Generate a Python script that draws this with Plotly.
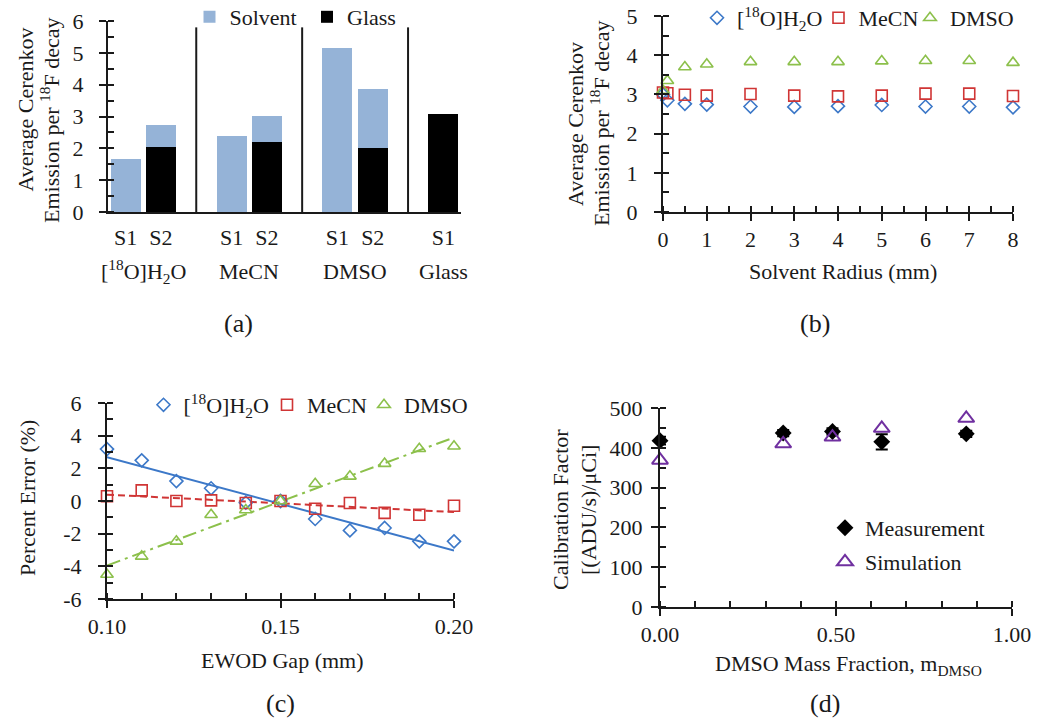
import plotly.graph_objects as go
import numpy as np

W, H = 1050, 724
FONT = "Liberation Serif, Times New Roman, serif"
TXT = "#1a1a1a"
AX = "#1a1a1a"

# ---------------- data ----------------
# (a) stacked bars
a_categories = ["S1", "S2", "", "S1", "S2", "", "S1", "S2", "", "S1"]
a_group_names = ["[<sup>18</sup>O]H<sub>2</sub>O", "MeCN", "DMSO", "Glass"]
a_glass = [0, 2.04, None, 0, 2.21, None, 0, 2.01, None, 3.08]
a_solvent = [1.67, 0.68, None, 2.38, 0.80, None, 5.14, 1.84, None, 0]

# (b) emission vs solvent radius
b_radius = [0, 0.1, 0.5, 1, 2, 3, 4, 5, 6, 7, 8]
b_water = [3.00, 2.85, 2.76, 2.74, 2.69, 2.68, 2.70, 2.73, 2.69, 2.69, 2.67]
b_mecn = [3.05, 3.03, 2.99, 2.97, 3.01, 2.97, 2.95, 2.97, 3.02, 3.02, 2.96]
b_dmso = [3.10, 3.35, 3.70, 3.77, 3.83, 3.83, 3.83, 3.85, 3.86, 3.86, 3.81]

# (c) percent error vs EWOD gap
c_gap = [0.10, 0.11, 0.12, 0.13, 0.14, 0.15, 0.16, 0.17, 0.18, 0.19, 0.20]
c_water = [3.18, 2.49, 1.22, 0.78, -0.10, 0.00, -1.10, -1.80, -1.65, -2.47, -2.47]
c_mecn = [0.29, 0.65, 0.00, 0.04, -0.12, 0.00, -0.47, -0.12, -0.73, -0.84, -0.29]
c_dmso = [-4.50, -3.39, -2.47, -0.84, -0.55, 0.00, 1.06, 1.51, 2.29, 3.20, 3.35]

# (d) calibration factor vs DMSO mass fraction
d_fraction = [0.00, 0.35, 0.49, 0.63, 0.87]
d_measured = [418, 437, 441, 415, 435]
d_measured_err = [10, 8, 8, 19, 8]
d_simulated = [369, 410, 427, 449, 474]

WATER = "[<sup>18</sup>O]H<sub>2</sub>O"
C_BAR = "#95b3d7"
C_BLUE = "#3c78c8"
C_RED = "#d03535"
C_GREEN = "#8cc04b"
C_PURPLE = "#7030a0"


def px_x(p):
    return p / W


def px_y(p):
    return 1 - p / H


fig = go.Figure()

# ---------- (a) ----------
a_x = list(range(len(a_categories)))
fig.add_trace(go.Bar(x=a_x, y=a_glass, name="Glass", marker_color="#000000",
                     marker_line_width=0, xaxis="x", yaxis="y", legend="legend2"))
fig.add_trace(go.Bar(x=a_x, y=a_solvent, name="Solvent", marker_color=C_BAR,
                     marker_line_width=0, xaxis="x", yaxis="y", legend="legend"))

# ---------- (b) ----------
mk = dict(line=dict(width=1.6))
fig.add_trace(go.Scatter(x=b_radius, y=b_water, mode="markers", name=WATER,
                         marker=dict(symbol="diamond-open", size=10, color=C_BLUE, **mk),
                         xaxis="x2", yaxis="y2", legend="legend3", cliponaxis=False))
fig.add_trace(go.Scatter(x=b_radius, y=b_mecn, mode="markers", name="MeCN",
                         marker=dict(symbol="square-open", size=11, color=C_RED, **mk),
                         xaxis="x2", yaxis="y2", legend="legend4", cliponaxis=False))
fig.add_trace(go.Scatter(x=b_radius, y=b_dmso, mode="markers", name="DMSO",
                         marker=dict(symbol="triangle-up-open", size=11, color=C_GREEN, **mk),
                         xaxis="x2", yaxis="y2", legend="legend5", cliponaxis=False))

# ---------- (c) ----------
def trend(xs, ys):
    k, b = np.polyfit(xs, ys, 1)
    ends = [xs[0], xs[-1]]
    return ends, [k * e + b for e in ends]


for ys, col, dash in [(c_water, C_BLUE, "solid"), (c_mecn, C_RED, "7px,4px"),
                      (c_dmso, C_GREEN, "14px,5px,3px,5px")]:
    tx, ty = trend(c_gap, ys)
    fig.add_trace(go.Scatter(x=tx, y=ty, mode="lines", line=dict(color=col, width=2, dash=dash),
                             showlegend=False, xaxis="x3", yaxis="y3", hoverinfo="skip"))

fig.add_trace(go.Scatter(x=c_gap, y=c_water, mode="markers", name=WATER,
                         marker=dict(symbol="diamond-open", size=10, color=C_BLUE, **mk),
                         xaxis="x3", yaxis="y3", legend="legend6", cliponaxis=False))
fig.add_trace(go.Scatter(x=c_gap, y=c_mecn, mode="markers", name="MeCN",
                         marker=dict(symbol="square-open", size=11, color=C_RED, **mk),
                         xaxis="x3", yaxis="y3", legend="legend7", cliponaxis=False))
fig.add_trace(go.Scatter(x=c_gap, y=c_dmso, mode="markers", name="DMSO",
                         marker=dict(symbol="triangle-up-open", size=11, color=C_GREEN, **mk),
                         xaxis="x3", yaxis="y3", legend="legend8", cliponaxis=False))

# ---------- (d) ----------
fig.add_trace(go.Scatter(x=d_fraction, y=d_measured, mode="markers", name="Measurement",
                         marker=dict(symbol="diamond", size=13, color="#000000"),
                         error_y=dict(type="data", array=d_measured_err, color="#000000",
                                      thickness=2, width=6),
                         xaxis="x4", yaxis="y4", legend="legend9", cliponaxis=False))
fig.add_trace(go.Scatter(x=d_fraction, y=d_simulated, mode="markers", name="Simulation",
                         marker=dict(symbol="triangle-up-open", size=14, color=C_PURPLE,
                                     line=dict(width=2)),
                         xaxis="x4", yaxis="y4", legend="legend10", cliponaxis=False))

# ---------- axes ----------
tickfont = dict(family=FONT, size=22, color=TXT)


def num_axis(domain, rng, dtick, minor_dtick, anchor, fmt=None, tick0=0, **kw):
    # major ticks outside + minor ticks inside (minor also at the majors -> crossing ticks)
    d = dict(domain=domain, range=rng, anchor=anchor, showgrid=False, zeroline=False,
             showline=True, linecolor=AX, linewidth=2, automargin=False,
             ticks="outside", ticklen=7, tickwidth=2.2, tickcolor=AX,
             dtick=dtick, tick0=tick0, tickfont=tickfont,
             minor=dict(ticks="inside", ticklen=6, tickwidth=2.2, tickcolor=AX,
                        dtick=minor_dtick, tick0=tick0, showgrid=False))
    if fmt:
        d["tickformat"] = fmt
    d.update(kw)
    return d


layout = dict(
    width=W, height=H, margin=dict(l=0, r=0, t=0, b=0, autoexpand=False),
    paper_bgcolor="white", plot_bgcolor="rgba(0,0,0,0)",
    font=dict(family=FONT, size=22, color=TXT),
    barmode="stack", bargap=0.15, showlegend=True,
)

# (a)
a_tickvals = [i for i, c in enumerate(a_categories) if c]
a_ticktext = [c for c in a_categories if c]
layout["xaxis"] = dict(domain=[px_x(108), px_x(461)], range=[-0.5, len(a_categories) - 0.5],
                       anchor="y", showgrid=False, zeroline=False, showline=True,
                       linecolor=AX, linewidth=2, ticks="", tickvals=a_tickvals,
                       ticktext=a_ticktext, tickfont=tickfont, ticklabelstandoff=5,
                       automargin=False)
layout["yaxis"] = num_axis([px_y(212), px_y(21)], [0, 6], 1, 0.5, "x", ticklabelstandoff=11)

# (b)
layout["xaxis2"] = num_axis([px_x(663), px_x(1013)], [0, 8], 1, 0.5, "y2", ticklabelstandoff=0)
layout["yaxis2"] = num_axis([px_y(212), px_y(16)], [0, 5], 1, 0.5, "x2", ticklabelstandoff=12)

# (c)
c_yt = list(range(-6, 7, 2))
layout["xaxis3"] = num_axis([px_x(107), px_x(454)], [0.10, 0.20], 0.05, 0.01, "y3", ".2f",
                            tick0=0.10, ticklabelstandoff=0)
layout["yaxis3"] = num_axis([px_y(599), px_y(403)], [-6, 6], 2, 1, "x3",
                            tickmode="array", tickvals=c_yt, ticktext=[str(v) for v in c_yt],
                            ticklabelstandoff=12)

# (d)
layout["xaxis4"] = num_axis([px_x(660), px_x(1012)], [0, 1], 0.5, 0.1, "y4", ".2f",
                            ticklabelstandoff=0)
layout["yaxis4"] = num_axis([px_y(607), px_y(408)], [0, 500], 100, 50, "x4",
                            ticklabelstandoff=4)

# legends: one per entry, placed where the reference puts them (symbol x, text x, y)
legend_pos = {
    "legend": (212, 223, 17), "legend2": (330, 340, 17),
    "legend3": (718, 732, 18), "legend4": (841, 852, 18), "legend5": (933, 943, 18),
    "legend6": (166, 177, 405), "legend7": (290, 300, 405), "legend8": (387, 397, 405),
    "legend9": (848, 858, 528), "legend10": (848, 858, 562),
}
for key, (sx, tx, ty) in legend_pos.items():
    left = (sx + tx) / 2 - 28
    layout[key] = dict(x=px_x(left), y=px_y(ty), xanchor="left", yanchor="middle",
                       orientation="h", bgcolor="rgba(0,0,0,0)", borderwidth=0,
                       font=dict(family=FONT, size=22, color=TXT), itemwidth=30)

fig.update_layout(**layout)

# separators between category groups in (a)
for i, c in enumerate(a_categories):
    if not c:
        fig.add_shape(type="line", xref="x", yref="y", x0=i, x1=i, y0=0, y1=5.8,
                      line=dict(color=AX, width=2))

ann = []


def text(x, y, s, size=22, angle=0):
    ann.append(dict(x=px_x(x), y=px_y(y), xref="paper", yref="paper", text=s, showarrow=False,
                    xanchor="center", yanchor="middle", textangle=angle,
                    font=dict(family=FONT, size=size, color=TXT)))


# group labels (a)
groups = []
cur = []
for i, c in enumerate(a_categories):
    if c:
        cur.append(i)
    else:
        groups.append(cur)
        cur = []
groups.append(cur)
for name, members in zip(a_group_names, groups):
    ann.append(dict(x=sum(members) / len(members), y=px_y(272), xref="x", yref="paper",
                    text=name, showarrow=False, xanchor="center", yanchor="middle",
                    font=dict(family=FONT, size=22, color=TXT)))

# axis titles
text(25, 109.5, "Average Cerenkov", angle=-90)
text(50, 121, "Emission per <sup>18</sup>F decay", angle=-90)
text(575, 124, "Average Cerenkov", angle=-90)
text(600, 124, "Emission per <sup>18</sup>F decay", angle=-90)
text(843, 272, "Solvent Radius (mm)")
text(27, 498, "Percent Error (%)", angle=-90)
text(282, 660, "EWOD Gap (mm)")
text(560, 510, "Calibration Factor", angle=-90)
text(588, 510, "[(ADU/s)/μCi]", angle=-90)
text(848, 665, "DMSO Mass Fraction, m<sub>DMSO</sub>")

# panel labels
text(238, 323, "(a)", size=26)
text(815, 323, "(b)", size=26)
text(280, 703, "(c)", size=26)
text(825, 703, "(d)", size=26)

fig.update_layout(annotations=ann)

fig.write_html("out.html", config={"displayModeBar": False},
               post_script="document.body.style.margin='0px';")
